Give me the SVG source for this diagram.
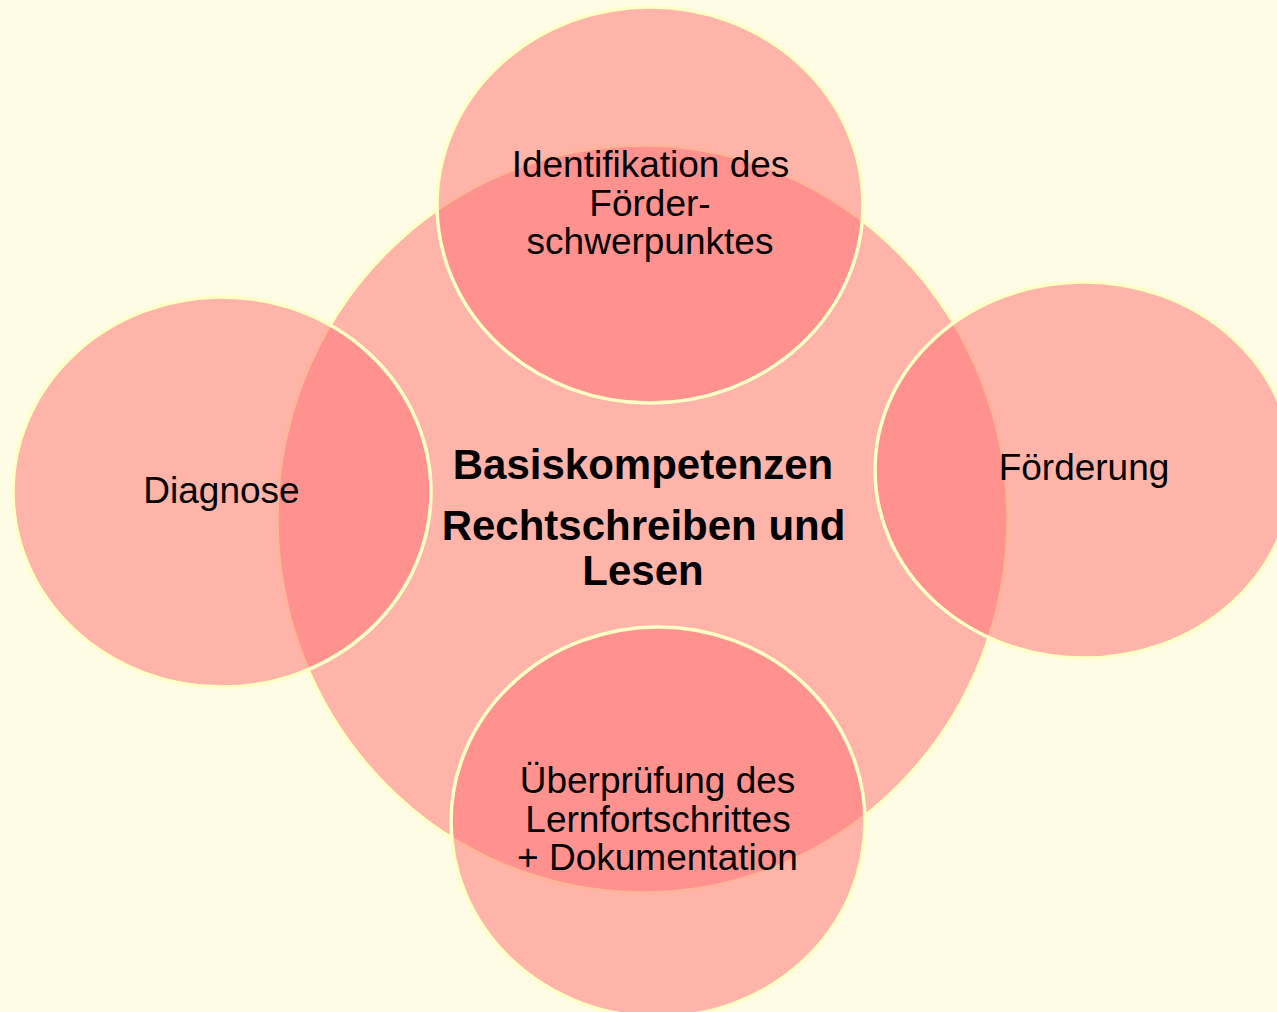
<svg xmlns="http://www.w3.org/2000/svg" width="1277" height="1012" viewBox="0 0 1277 1012">
<style>
.shape{fill:#FF7375;fill-opacity:0.53;stroke:#FFFFC6;stroke-width:3.5}
.t{font-family:"Liberation Sans",Arial,sans-serif;font-size:37px;fill:#000;text-anchor:middle}
.b{font-family:"Liberation Sans",Arial,sans-serif;font-size:42px;font-weight:bold;fill:#000;text-anchor:middle}
</style>
<rect x="0" y="0" width="1277" height="1012" fill="#FFFCE6"/>
<g id="center">
<ellipse class="shape" cx="642.5" cy="519" rx="365.5" ry="374"/>
<text class="b" x="643" y="479">Basiskompetenzen</text>
<text class="b" x="643.5" y="540">Rechtschreiben und</text>
<text class="b" x="643" y="585">Lesen</text>
</g>
<g id="top">
<ellipse class="shape" cx="650" cy="205" rx="213" ry="198"/>
<text class="t" x="650.5" y="177">Identifikation des</text>
<text class="t" x="650" y="215.5">Förder-</text>
<text class="t" x="650" y="254">schwerpunktes</text>
</g>
<g id="left">
<ellipse class="shape" cx="222" cy="492" rx="209" ry="195"/>
<text class="t" x="221.5" y="503">Diagnose</text>
</g>
<g id="right">
<ellipse class="shape" cx="1084" cy="470" rx="209" ry="188"/>
<text class="t" x="1084" y="480">Förderung</text>
</g>
<g id="bottom">
<ellipse class="shape" cx="658" cy="822" rx="207" ry="195"/>
<text class="t" x="657.5" y="793">Überprüfung des</text>
<text class="t" x="658" y="832">Lernfortschrittes</text>
<text class="t" x="657.5" y="870">+ Dokumentation</text>
</g>
<g id="connectors"></g>
</svg>
